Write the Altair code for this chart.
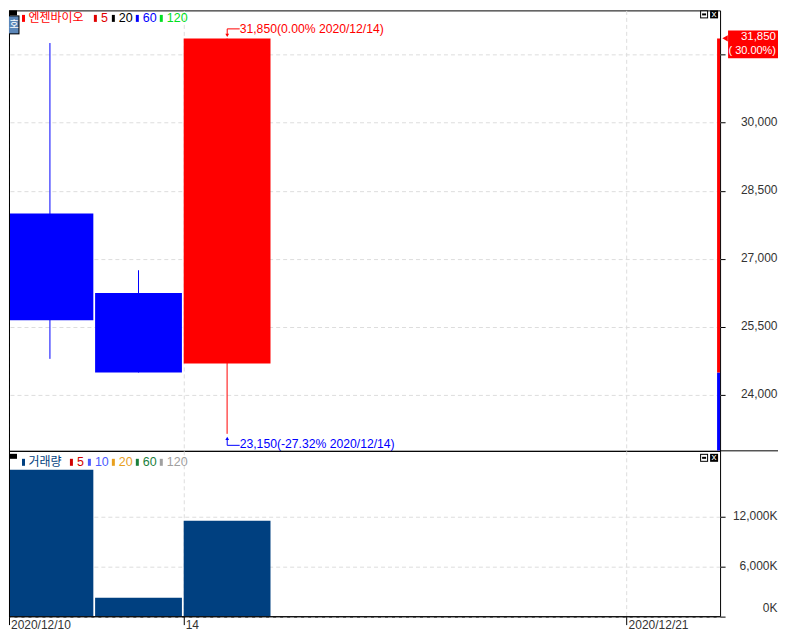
import altair as alt
import pandas as pd

# ---- data ----
dates = ["2020/12/10", "2020/12/11", "2020/12/14"]
opens = [28000, 26250, 24700]
closes = [25650, 24500, 31850]
highs = [31750, 26750, 31850]
lows = [24800, 24500, 23150]
volumes = [17720, 2260, 11560]
price_ticks = [24000, 25500, 27000, 28500, 30000, 31500]
volume_ticks = [0, 6000, 12000]
date_tick_index = [0, 2, 7]
date_tick_labels = ["2020/12/10", "14", "2020/12/21"]
prev_close = 24500
last_close = 31850
high_note = "31,850(0.00% 2020/12/14)"
low_note = "23,150(-27.32% 2020/12/14)"
box_lines = ["31,850", "( 30.00%)"]
stock_name = "엔젠바이오"
volume_name = "거래량"
price_legend = [("5", "#e00000"), ("20", "#000000"), ("60", "#0000ff"), ("120", "#00e020")]
volume_legend = [("5", "#d00000"), ("10", "#4b5bff"), ("20", "#e8a01e"), ("60", "#1a7f3c"), ("120", "#a0a0a0")]

RED, BLUE, NAVY = "#ff0000", "#0000ff", "#004080"
SANS = "Liberation Sans"
KR = "Noto Sans CJK KR"
W, H1, H2 = 712, 441, 166
RIGHT = 770  # widest the page shows without shrinking the drawing
XDOM = [0.028, 8.055]
PDOM = [22776, 32468]
VDOM = [-36, 20012]

candles = pd.DataFrame({
    "i": range(len(dates)), "date": dates, "open": opens, "close": closes,
    "high": highs, "low": lows, "vol": volumes,
})
candles["end"] = candles["i"] + 0.98
candles["mid"] = candles["i"] + 0.49
candles["lo"] = candles[["open", "close"]].min(axis=1)
candles["hi"] = candles[["open", "close"]].max(axis=1)
candles["col"] = [RED if c > o else BLUE for o, c in zip(opens, closes)]

xscale = alt.Scale(domain=XDOM, clamp=True, nice=False, zero=False)
pscale = alt.Scale(domain=PDOM, nice=False, zero=False)
vscale = alt.Scale(domain=VDOM, nice=False, zero=False)
GRID = dict(grid=True, gridColor="#dddddd", gridDash=[4, 3], gridWidth=1)


def rect(x, x2, y, y2, color):
    return alt.Chart().mark_rect(color=color).encode(
        x=alt.value(x), x2=alt.value(x2), y=alt.value(y), y2=alt.value(y2))


def rule(x, x2, y, y2, color):
    return alt.Chart().mark_rule(color=color, strokeWidth=1).encode(
        x=alt.value(x), x2=alt.value(x2), y=alt.value(y), y2=alt.value(y2))


def label(s, x, y, color, size=12, font=SANS, align="left"):
    return alt.Chart().mark_text(
        text=s, color=color, fontSize=size, font=font, align=align, baseline="middle"
    ).encode(x=alt.value(x), y=alt.value(y))


def tri(shape, x, y, color, size=30):
    return alt.Chart().mark_point(shape=shape, filled=True, color=color, size=size, opacity=1).encode(
        x=alt.value(x), y=alt.value(y))


def chrome(y0):
    """window buttons and legend swatch at panel-relative y0"""
    return [
        rect(0.5, 8, y0, y0 + 5, "#000000"),
        rect(692, 700, y0, y0 + 8, "#000000"),
        rect(693, 699, y0 + 1, y0 + 7, "#ffffff"),
        rect(694, 698, y0 + 3, y0 + 5, "#000000"),
        rect(702, 710, y0, y0 + 8, "#000000"),
        label("x", 706, y0 + 3.5, "#ffffff", size=10, align="center"),
    ]


def legend(name, name_col, items, y):
    out = [rect(13, 16, y - 3, y + 4, name_col),
           label(name, 19.5, y, name_col, size=12, font=KR)]
    xs = [61, 79, 103, 127, 151]
    if len(items) == 4:
        xs = [85, 103, 127, 151]
    for (t, c), x in zip(items, xs):
        out.append(rect(x, x + 3, y - 3, y + 4, c))
        out.append(label(t, x + 7, y, c, size=12.5))
    return out


x_hidden = alt.Axis(values=date_tick_index, labels=False, ticks=False, domain=False, title=None, **GRID)
price_axis = alt.Axis(
    orient="right", values=price_ticks, title=None, domain=False,
    labelExpr="datum.value == 31500 ? '' : format(datum.value, ',d')",
    tickColor="#000000", tickSize=5, labelPadding=52, labelAlign="right", labelFont=SANS, labelFontSize=12,
    labelColor="#333333", labelOffset=-1.5, **GRID)

body = alt.Chart(candles).mark_rect().encode(
    x=alt.X("i:Q", scale=xscale, axis=x_hidden), x2="end:Q",
    y=alt.Y("lo:Q", scale=pscale, axis=price_axis), y2="hi:Q",
    color=alt.Color("col:N", scale=None))
wick = alt.Chart(candles).mark_rule(strokeWidth=1).encode(
    x=alt.X("mid:Q", scale=xscale), y=alt.Y("low:Q", scale=pscale), y2="high:Q",
    color=alt.Color("col:N", scale=None))

strip_df = pd.DataFrame({"a": [PDOM[0], prev_close], "b": [prev_close, last_close], "c": [BLUE, RED]})
strip = alt.Chart(strip_df).mark_rect(clip=True).encode(
    x=alt.value(709), x2=alt.value(712.5),
    y=alt.Y("a:Q", scale=pscale), y2="b:Q", color=alt.Color("c:N", scale=None))

top_layers = [wick, body, strip]
top_layers += [
    rule(0.5, 0.5, 0, H1, "#000000"),
    rule(712, RIGHT, H1, H1, "#000000"),
    rect(720, RIGHT, 20, 48, RED),
    tri("triangle-left", 717, 28, RED, 40),
    label(box_lines[0], RIGHT - 2, 27, "#ffffff", size=11.5, align="right"),
    label(box_lines[1], RIGHT - 2, 41, "#ffffff", size=11, align="right"),
    rule(218.5, 231, 18.5, 18.5, RED), rule(218.5, 218.5, 18.5, 24, RED), tri("triangle-down", 218.5, 25, RED, 14),
    label(high_note, 231, 19, RED, size=12.2),
    rule(218.5, 231, 435.5, 435.5, BLUE), rule(218.5, 218.5, 430, 435.5, BLUE), tri("triangle-up", 218.5, 428.5, BLUE, 14),
    label(low_note, 231, 434.5, BLUE, size=12.2),
    rect(0, 10.5, 5, 24, "#000000"),
    rect(0, 9.5, 6, 23, "#5b86b8"),
    label("호", 5, 14.5, "#ffffff", size=10, font=KR, align="center"),
]
top_layers += chrome(0)
top_layers += legend(stock_name, RED, price_legend, 7.5)
top = alt.layer(*top_layers).properties(width=W, height=H1)

x_dates = alt.Axis(
    values=date_tick_index, title=None, domain=False, tickColor="#000000", tickSize=8,
    labelAlign="left", labelBaseline="top", labelPadding=-5, labelOffset=1.5, labelFont=SANS, labelFontSize=12,
    labelColor="#333333", labelOverlap=False, labelFlush=False,
    labelExpr=" : ".join(f"datum.value == {i} ? '{s}'" for i, s in zip(date_tick_index, date_tick_labels)) + " : ''",
    **GRID)
vol_axis = alt.Axis(
    orient="right", values=volume_ticks, title=None, domain=False, tickColor="#000000", tickSize=5,
    labelPadding=52, labelAlign="right", labelFont=SANS, labelFontSize=12, labelColor="#333333",
    labelOffset=-1.5, labelExpr="format(datum.value, ',d') + 'K'",
    labelBaseline={"condition": {"test": "datum.value == 0", "value": "bottom"}, "value": "middle"},
    **GRID)
vol = alt.Chart(candles).mark_rect(color=NAVY).encode(
    x=alt.X("i:Q", scale=xscale, axis=x_dates), x2="end:Q",
    y=alt.Y("vol:Q", scale=vscale, axis=vol_axis), y2=alt.Y2(datum=0))

bot_layers = [vol, rule(0.5, 0.5, 0, H2, "#000000"), rule(0, W, H2, H2, "#000000")]
bot_layers += chrome(3) + legend(volume_name, NAVY, volume_legend, 11)
bottom = alt.layer(*bot_layers).properties(width=W, height=H2)

chart = alt.vconcat(top, bottom, spacing=0, bounds="flush", padding=0).configure_view(
    stroke="#000000", strokeWidth=1)
chart.save("out.html", embed_options={"renderer": "svg", "actions": False})
